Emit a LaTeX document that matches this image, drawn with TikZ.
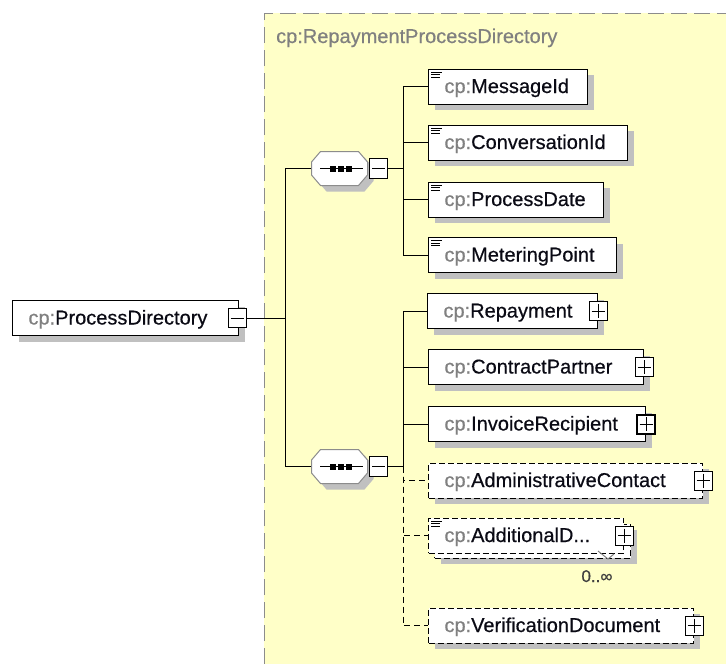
\documentclass[tikz,border=0pt]{standalone}
\usepackage{fontspec}
\setmainfont{Liberation Sans}[FakeBold=0.5]
\usetikzlibrary{shadows}
\definecolor{cpgray}{HTML}{808080}
\definecolor{shadowc}{HTML}{C0C0C0}
\definecolor{yell}{HTML}{FFFFC8}
\definecolor{bordergray}{HTML}{8C8C8C}
\definecolor{zerogray}{HTML}{404040}
\definecolor{namec}{HTML}{0A0A14}
\newcommand{\cpn}[1]{\textcolor{cpgray}{cp:}\textcolor{namec}{#1}}
\newcommand{\docicon}[1]{\draw[line width=0.8pt] ([shift={(3pt,-3.5pt)}]#1.north west) -- ++(11,0) ([shift={(3pt,-6pt)}]#1.north west) -- ++(9,0) ([shift={(3pt,-8.5pt)}]#1.north west) -- ++(9,0);}
\newcommand{\octpath}{+(-19,-17) -- +(19,-17) -- +(28,-6.5) -- +(28,6.5) -- +(19,17) -- +(-19,17) -- +(-28,6.5) -- +(-28,-6.5) -- cycle}
\begin{document}
\begin{tikzpicture}[x=1pt,y=-1pt,
  elem/.style={draw=black, line width=1pt, fill=white, rectangle, anchor=west, minimum height=35pt, inner xsep=16pt, inner ysep=0pt, align=left, text width=#1, text height=17pt, text depth=4pt, font=\fontsize{20}{24}\selectfont},
  shad/.style={general shadow={fill=shadowc, shadow xshift=6pt, shadow yshift=-6pt}},
  optional/.style={dash pattern=on 6pt off 3pt},
  pm/.style={draw=black, line width=1pt, fill=white, minimum width=18pt, minimum height=19pt, inner sep=0pt},
  minusbox/.style={pm, path picture={\draw[line width=1pt] ([xshift=2.5pt]path picture bounding box.west) -- ([xshift=-2.5pt]path picture bounding box.east);}},
  plusbox/.style={pm, path picture={\draw[line width=1pt] ([xshift=2.5pt]path picture bounding box.west) -- ([xshift=-2.5pt]path picture bounding box.east) ([yshift=-2.5pt]path picture bounding box.north) -- ([yshift=2.5pt]path picture bounding box.south);}},
  conn/.style={draw=black, line width=1pt},
  dconn/.style={conn, dash pattern=on 6pt off 4pt},
  seq/.style={rectangle, minimum width=56pt, minimum height=34pt, inner sep=0pt},
]
\useasboundingbox (0,0) rectangle (726,664);
\fill[white] (0,0) rectangle (726,664);
\fill[yell] (264,13) rectangle (726,664);
\draw[bordergray, line width=1pt, dash pattern=on 16pt off 7pt] (264,664) -- (264,13) -- (726,13);
\node[anchor=base west, font=\fontsize{20}{24}\selectfont, text=cpgray, inner sep=0pt] (title) at (276,43) {cp:RepaymentProcessDirectory};

% root
\node[elem=194, shad] (pd) at (12,318) {\cpn{ProcessDirectory}};
\node[minusbox] (pdm) at (237,318) {};
\coordinate (j0) at (285,318);

% sequences
\node[seq] (seq1) at (339.5,168.5) {};
\node[seq] (seq2) at (339.5,466.5) {};
\foreach \s in {seq1,seq2}{
  \fill[shadowc] ([shift={(6pt,-6pt)}]\s.center) \octpath;
  \draw[bordergray, line width=1pt, fill=white] (\s.center) \octpath;
  \draw[line width=1pt] (\s.center) +(-19.5,0) -- +(23.5,0);
  \foreach \dx in {-7,1,9}{\fill (\s.center) ++(\dx-3,-3) rectangle ++(6,6);}
}
\node[minusbox, minimum height=20pt] (seq1m) at (378.5,168.5) {};
\coordinate (k1) at (403,168.5);
\node[minusbox, minimum height=20pt] (seq2m) at (378.5,466.5) {};
\coordinate (k2) at (403,466.5);

% first group
\node[elem=127, shad] (e1) at (428,86.5) {\cpn{MessageId}};
\node[elem=167, shad] (e2) at (428,142.5) {\cpn{ConversationId}};
\node[elem=143, shad] (e3) at (428,199.5) {\cpn{ProcessDate}};
\node[elem=156, shad] (e4) at (428,255) {\cpn{MeteringPoint}};
\foreach \n in {e1,e2,e3,e4}{\docicon{\n}}

% second group
\node[elem=138, shad] (f1) at (427,311) {\cpn{Repayment}};
\node[plusbox] (f1p) at (f1.east) {};
\node[elem=183, shad] (f2) at (428,367) {\cpn{ContractPartner}};
\node[plusbox] (f2p) at (f2.east) {};
\node[elem=185, shad] (f3) at (428,424) {\cpn{InvoiceRecipient}};
\node[plusbox, line width=2pt] (f3p) at (f3.east) {};
\node[elem=242, shad, optional] (f4) at (428,480.5) {\cpn{AdministrativeContact}};
\node[plusbox] (f4p) at (f4.east) {};
\node[elem=164, shad, optional, minimum height=34pt] (f5b) at (434,541) {};
\node[elem=163, optional] (f5) at (428,535.5) {\cpn{AdditionalD...}};
\docicon{f5}
\node[plusbox] (f5p) at (f5.east) {};
\draw[cpgray, line width=1pt] (598,551) -- (608,559) -- (614,554);
\node[anchor=base, font=\fontsize{17}{20}\selectfont, text=zerogray, inner sep=0pt] (mult) at (597,582) {0..∞};
\node[elem=233, shad, optional] (f6) at (428,625.5) {\cpn{VerificationDocument}};
\node[plusbox] (f6p) at (f6.east) {};

% connectors
\draw[conn] (pdm.east) -- (j0);
\draw[conn] (j0) |- (seq1.west);
\draw[conn] (j0) |- (seq2.west);
\draw[conn] (seq1m.east) -- (k1);
\foreach \n in {e1,e2,e3,e4}{\draw[conn] (k1) |- (\n.west);}
\draw[conn] (seq2m.east) -- (k2);
\foreach \n in {f1,f2,f3}{\draw[conn] (k2) |- (\n.west);}
\foreach \n in {f4,f5,f6}{\draw[dconn] (k2) |- (\n.west);}
\end{tikzpicture}
\end{document}
